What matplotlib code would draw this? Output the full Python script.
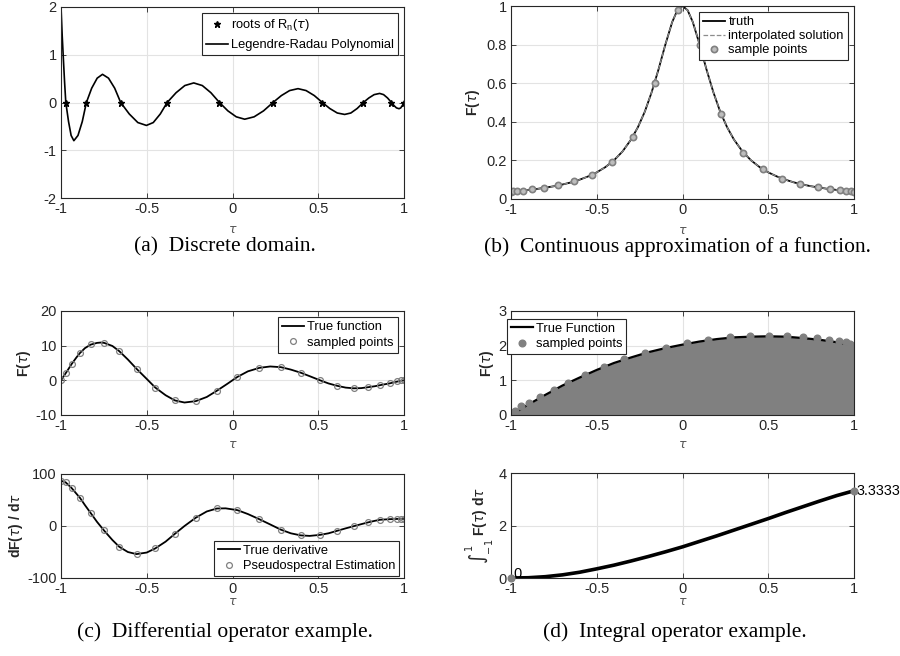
import matplotlib
matplotlib.use("Agg")
import matplotlib.pyplot as plt

plt.rcParams['font.family'] = ['Liberation Sans', 'DejaVu Sans']
plt.rcParams['axes.unicode_minus'] = False

# ---- (a) Legendre-Radau polynomial and its roots
a_tau = [-1.0, -0.993, -0.986, -0.979, -0.972,
         -0.956, -0.941, -0.925, -0.901, -0.876, -0.852,
         -0.821, -0.789, -0.758, -0.723, -0.687, -0.652,
         -0.602, -0.552, -0.502, -0.462, -0.421, -0.381,
         -0.329, -0.278, -0.226, -0.176, -0.126, -0.076,
         -0.027, 0.022, 0.071, 0.126, 0.181, 0.236,
         0.285, 0.333, 0.382, 0.429, 0.477, 0.524,
         0.567, 0.611, 0.654, 0.690, 0.727, 0.763,
         0.795, 0.826, 0.858, 0.881, 0.904, 0.927,
         0.942, 0.956, 0.971, 0.981, 0.990, 1.0]
a_val = [2.0, 1.4, 0.9, 0.42, 0.0,
         -0.40, -0.69, -0.80, -0.69, -0.40, 0.0,
         0.30, 0.51, 0.59, 0.51, 0.30, 0.0,
         -0.24, -0.42, -0.48, -0.42, -0.24, 0.0,
         0.205, 0.355, 0.41, 0.355, 0.205, 0.0,
         -0.175, -0.30, -0.35, -0.30, -0.175, 0.0,
         0.145, 0.25, 0.29, 0.25, 0.145, 0.0,
         -0.125, -0.22, -0.25, -0.22, -0.125, 0.0,
         0.095, 0.165, 0.19, 0.165, 0.095, 0.0,
         -0.065, -0.113, -0.13, -0.113, -0.065, 0.0]
a_roots = [-0.972, -0.852, -0.652, -0.381, -0.076, 0.236, 0.524, 0.763, 0.927, 1.0]
a_roots_val = [0, 0, 0, 0, 0, 0, 0, 0, 0, 0]

# ---- (b) truth curve, interpolation, samples
b_tau = [-1.0, -0.95, -0.9, -0.85, -0.8, -0.75, -0.7, -0.65, -0.6, -0.55, -0.5,
         -0.45, -0.4, -0.35, -0.3, -0.26, -0.22, -0.18, -0.14, -0.1, -0.06, -0.03, 0.0,
         0.03, 0.06, 0.1, 0.14, 0.18, 0.22, 0.26, 0.3, 0.35, 0.4, 0.45,
         0.5, 0.55, 0.6, 0.65, 0.7, 0.75, 0.8, 0.85, 0.9, 0.95, 1.0]
b_truth = [0.038, 0.042, 0.047, 0.052, 0.059, 0.066, 0.075, 0.086, 0.100, 0.117, 0.138,
           0.165, 0.200, 0.246, 0.308, 0.372, 0.452, 0.553, 0.671, 0.800, 0.917, 0.978, 1.0,
           0.978, 0.917, 0.800, 0.671, 0.553, 0.452, 0.372, 0.308, 0.246, 0.200, 0.165,
           0.138, 0.117, 0.100, 0.086, 0.075, 0.066, 0.059, 0.052, 0.047, 0.042, 0.038]
b_interp = [0.038, 0.042, 0.047, 0.052, 0.059, 0.066, 0.075, 0.086, 0.100, 0.117, 0.138,
            0.165, 0.200, 0.246, 0.308, 0.372, 0.452, 0.553, 0.671, 0.800, 0.917, 0.978, 1.0,
            0.978, 0.917, 0.800, 0.671, 0.553, 0.452, 0.372, 0.308, 0.246, 0.200, 0.165,
            0.138, 0.117, 0.100, 0.086, 0.075, 0.066, 0.059, 0.052, 0.047, 0.042, 0.038]
b_samp_tau = [-1.0, -0.986, -0.967, -0.932, -0.876, -0.808, -0.728, -0.633, -0.526,
              -0.412, -0.291, -0.161, -0.029, 0.101, 0.227, 0.353, 0.470, 0.583,
              0.684, 0.790, 0.858, 0.917, 0.956, 0.981, 1.0]
b_samp_val = [0.038, 0.039, 0.041, 0.044, 0.050, 0.058, 0.070, 0.091, 0.126,
              0.19, 0.32, 0.60, 0.98, 0.80, 0.44, 0.24, 0.153, 0.105,
              0.079, 0.060, 0.052, 0.045, 0.042, 0.040, 0.038]

# ---- (c) function, derivative and samples
c_samp_tau = [-1.0, -0.973, -0.938, -0.889, -0.827, -0.748, -0.660, -0.559, -0.450,
              -0.336, -0.214, -0.091, 0.029, 0.157, 0.282, 0.398, 0.511, 0.612,
              0.707, 0.788, 0.860, 0.918, 0.957, 0.981, 1.0]
c_samp_f = [0.1, 2.0, 4.7, 7.9, 10.4, 10.8, 8.4, 3.3, -2.1,
            -5.8, -6.0, -3.0, 1.05, 3.6, 3.8, 2.2, 0.0, -1.6,
            -2.3, -2.0, -1.4, -0.86, -0.29, 0.0, 0.1]
c_samp_df = [86.5, 83.3, 71.8, 52.6, 23.7, -9.6, -41.0, -54.5, -44.2,
             -16.0, 14.7, 32.7, 29.5, 12.2, -7.7, -18.6, -17.9, -10.3,
             -1.3, 5.8, 11.5, 12.2, 12.8, 12.8, 12.8]
c_tau = [-1.0, -0.98, -0.96, -0.938, -0.91, -0.889, -0.86, -0.827, -0.79, -0.768,
         -0.748, -0.70, -0.66, -0.61, -0.559, -0.50, -0.45, -0.39, -0.336, -0.28,
         -0.214, -0.15, -0.091, -0.03, 0.029, 0.09, 0.157, 0.22, 0.282, 0.34,
         0.398, 0.455, 0.511, 0.56, 0.612, 0.66, 0.707, 0.75, 0.788, 0.83,
         0.860, 0.918, 0.957, 0.981, 1.0]
c_f = [0.0, 1.5, 3.0, 4.7, 6.6, 7.9, 9.3, 10.3, 10.8, 10.9,
       10.8, 9.9, 8.4, 6.0, 3.3, 0.4, -2.1, -4.3, -5.8, -6.4,
       -6.0, -4.8, -3.0, -1.0, 1.0, 2.6, 3.6, 4.0, 3.8, 3.1,
       2.2, 1.1, 0.0, -0.9, -1.6, -2.1, -2.3, -2.25, -2.0, -1.7,
       -1.4, -0.86, -0.4, -0.15, 0.0]
c_dtau = [-1.0, -0.973, -0.938, -0.889, -0.86, -0.827, -0.79, -0.748, -0.70, -0.66,
          -0.61, -0.56, -0.50, -0.45, -0.39, -0.336, -0.28, -0.214, -0.15, -0.091,
          -0.04, 0.029, 0.09, 0.157, 0.22, 0.282, 0.34, 0.398, 0.45, 0.511,
          0.56, 0.612, 0.66, 0.707, 0.75, 0.788, 0.83, 0.860, 0.918, 0.957, 1.0]
c_df = [86.0, 83.0, 72.0, 53.0, 39.0, 24.0, 7.0, -10.0, -28.0, -41.0,
        -51.0, -55.0, -52.0, -44.0, -31.0, -16.0, -1.0, 15.0, 27.0, 32.7,
        33.0, 29.5, 22.0, 12.0, 2.0, -8.0, -15.0, -19.0, -20.0, -18.0,
        -15.0, -10.0, -5.5, -1.3, 2.5, 5.8, 9.0, 11.0, 12.2, 12.6, 12.8]

# ---- (d) function, samples and cumulative integral
d_tau = [-1.0, -0.9, -0.8, -0.7, -0.6, -0.5, -0.4, -0.3, -0.2, -0.1, 0.0,
         0.1, 0.2, 0.3, 0.4, 0.5, 0.6, 0.7, 0.8, 0.9, 1.0]
d_f = [0.0, 0.30, 0.58, 0.85, 1.08, 1.30, 1.50, 1.66, 1.81, 1.93, 2.03,
       2.12, 2.19, 2.24, 2.26, 2.27, 2.26, 2.22, 2.17, 2.10, 2.0]
d_int = [0.0, 0.01, 0.05, 0.12, 0.22, 0.35, 0.49, 0.65, 0.82, 1.0, 1.19,
         1.40, 1.61, 1.83, 2.05, 2.27, 2.50, 2.72, 2.94, 3.15, 3.3333]
d_samp_tau = [-1.0, -0.977, -0.944, -0.893, -0.831, -0.752, -0.666, -0.567, -0.458,
              -0.342, -0.221, -0.097, 0.027, 0.151, 0.276, 0.396, 0.503, 0.610,
              0.703, 0.783, 0.855, 0.913, 0.951, 0.975, 1.0]
d_samp_f = [0.0, 0.125, 0.26, 0.36, 0.53, 0.72, 0.93, 1.15, 1.38,
            1.61, 1.80, 1.94, 2.08, 2.17, 2.25, 2.29, 2.29, 2.29,
            2.26, 2.21, 2.17, 2.13, 2.10, 2.06, 2.0]
d_ends_tau = [-1.0, 1.0]
d_ends_val = [0.0, 3.3333]

xt = [-1, -0.5, 0, 0.5, 1]
xtl = ['-1', '-0.5', '0', '0.5', '1']
dark = '#262626'
gray = '#808080'


def style(ax, yt, tau_pad):
    ax.set_xlim(-1, 1)
    ax.set_ylim(yt[0], yt[-1])
    ax.set_xticks(xt)
    ax.set_xticklabels(xtl)
    ax.set_yticks(yt)
    ax.set_yticklabels(['%g' % v for v in yt])
    ax.grid(True, color='#e3e3e3', lw=0.8)
    ax.set_axisbelow(True)
    ax.tick_params(direction='in', top=True, right=True, length=3.5, width=0.6,
                   colors=dark, labelsize=10.5, pad=3)
    for s in ax.spines.values():
        s.set_color(dark)
        s.set_linewidth(0.8)
    ax.set_xlabel(r'$\tau$', fontsize=9, color='#555555', labelpad=tau_pad)


def leg(ax, **kw):
    l = ax.legend(fontsize=9.3, fancybox=False, framealpha=1, edgecolor=dark,
                  handlelength=1.7, handletextpad=0.25, borderpad=0.3, **kw)
    l.get_frame().set_linewidth(0.8)
    return l


fig = plt.figure(figsize=(9, 6.56), dpi=100)
W, H = 900.0, 656.0

# (a)
ax = fig.add_axes([61 / W, 1 - 198 / H, 343 / W, 191 / H])
ax.plot(a_roots, a_roots_val, '*', color='k', ms=4.5, label=r'roots of R$_\mathregular{n}$($\tau$)')
ax.plot(a_tau, a_val, '-', color='k', lw=1.2, label='Legendre-Radau Polynomial')
style(ax, [-2, -1, 0, 1, 2], 6)
leg(ax, loc='upper right', labelspacing=0.45)

# (b)
ax = fig.add_axes([511 / W, 1 - 199 / H, 343 / W, 193 / H])
ax.plot(b_tau, b_truth, '-', color='k', lw=1.3, label='truth')
ax.plot(b_tau, b_interp, '--', color='#8c8c8c', lw=0.9, label='interpolated solution')
ax.plot(b_samp_tau, b_samp_val, 'o', ms=4.5, mfc='#bdbdbd', mec=gray, mew=1.2,
        label='sample points')
style(ax, [0, 0.2, 0.4, 0.6, 0.8, 1], 6)
ax.set_ylabel(r'F($\tau$)', fontsize=10, fontweight='bold', color=dark, labelpad=3)
leg(ax, loc='upper right', labelspacing=0.15)

# (c) top
ax = fig.add_axes([61 / W, 1 - 415 / H, 343 / W, 104 / H])
ax.plot(c_tau, c_f, '-', color='k', lw=1.3, label='True function')
ax.plot(c_samp_tau, c_samp_f, 'o', ms=4.2, mfc='none', mec=gray, mew=0.9,
        label='sampled points')
style(ax, [-10, 0, 10, 20], 4)
ax.set_ylabel(r'F($\tau$)', fontsize=10, fontweight='bold', color=dark, labelpad=2)
leg(ax, loc='upper right', labelspacing=0.25)

# (c) bottom
ax = fig.add_axes([61 / W, 1 - 577.5 / H, 343 / W, 104 / H])
ax.plot(c_dtau, c_df, '-', color='k', lw=1.3, label='True derivative')
ax.plot(c_samp_tau, c_samp_df, 'o', ms=4.2, mfc='none', mec=gray, mew=0.9,
        label='Pseudospectral Estimation')
style(ax, [-100, 0, 100], 0)
ax.set_ylabel(r'dF($\tau$) / d$\tau$', fontsize=10, fontweight='bold', color=dark, labelpad=2)
leg(ax, loc='lower right', bbox_to_anchor=(1 - 5 / 343, 1.5 / 104), borderaxespad=0,
    labelspacing=0.25)

# (d) top
ax = fig.add_axes([511 / W, 1 - 415 / H, 343 / W, 104 / H])
ax.fill_between(d_tau, d_f, 0, color=gray, lw=0)
ax.plot(d_tau, d_f, '-', color='k', lw=1.6, label='True Function')
ax.plot(d_samp_tau, d_samp_f, 'o', ms=4.8, mfc=gray, mec=gray, label='sampled points')
style(ax, [0, 1, 2, 3], 4)
ax.set_ylabel(r'F($\tau$)', fontsize=10, fontweight='bold', color=dark, labelpad=2)
l = leg(ax, loc='upper left', bbox_to_anchor=(-4.3 / 343, 1 - 8 / 104), borderaxespad=0,
        labelspacing=0.25)
l.set_zorder(5)

# (d) bottom
ax = fig.add_axes([511 / W, 1 - 578 / H, 343 / W, 104.7 / H])
ax.plot(d_tau, d_int, '-', color='k', lw=2.6)
ax.plot(d_ends_tau, d_ends_val, 'o', ms=4.8, mfc=gray, mec=gray, clip_on=False, zorder=4)
ax.annotate('%g' % d_ends_val[0], (d_ends_tau[0], d_ends_val[0]), xytext=(2, 3),
            textcoords='offset points', va='center', fontsize=10.5, color='k',
            annotation_clip=False)
ax.annotate('%.4f' % d_ends_val[1], (d_ends_tau[1], d_ends_val[1]), xytext=(1.5, 0),
            textcoords='offset points', va='center', fontsize=10.3, color='k',
            annotation_clip=False)
style(ax, [0, 2, 4], 0)
ax.set_ylabel(r'$\int_{-1}^{1}$ F($\tau$) d$\tau$', fontsize=10, fontweight='bold',
              color=dark, labelpad=2)

# captions
cap = dict(family='Liberation Serif', fontsize=15.5, ha='center', va='center', color='k')
fig.text(225 / W, 1 - 247 / H, '(a)  Discrete domain.', **cap)
fig.text(677 / W, 1 - 247 / H, '(b)  Continuous approximation of a function.', **cap)
fig.text(225 / W, 1 - 632 / H, '(c)  Differential operator example.', **cap)
fig.text(675 / W, 1 - 632 / H, '(d)  Integral operator example.', **cap)

fig.savefig('out.png', dpi=100)
plt.close(fig)
